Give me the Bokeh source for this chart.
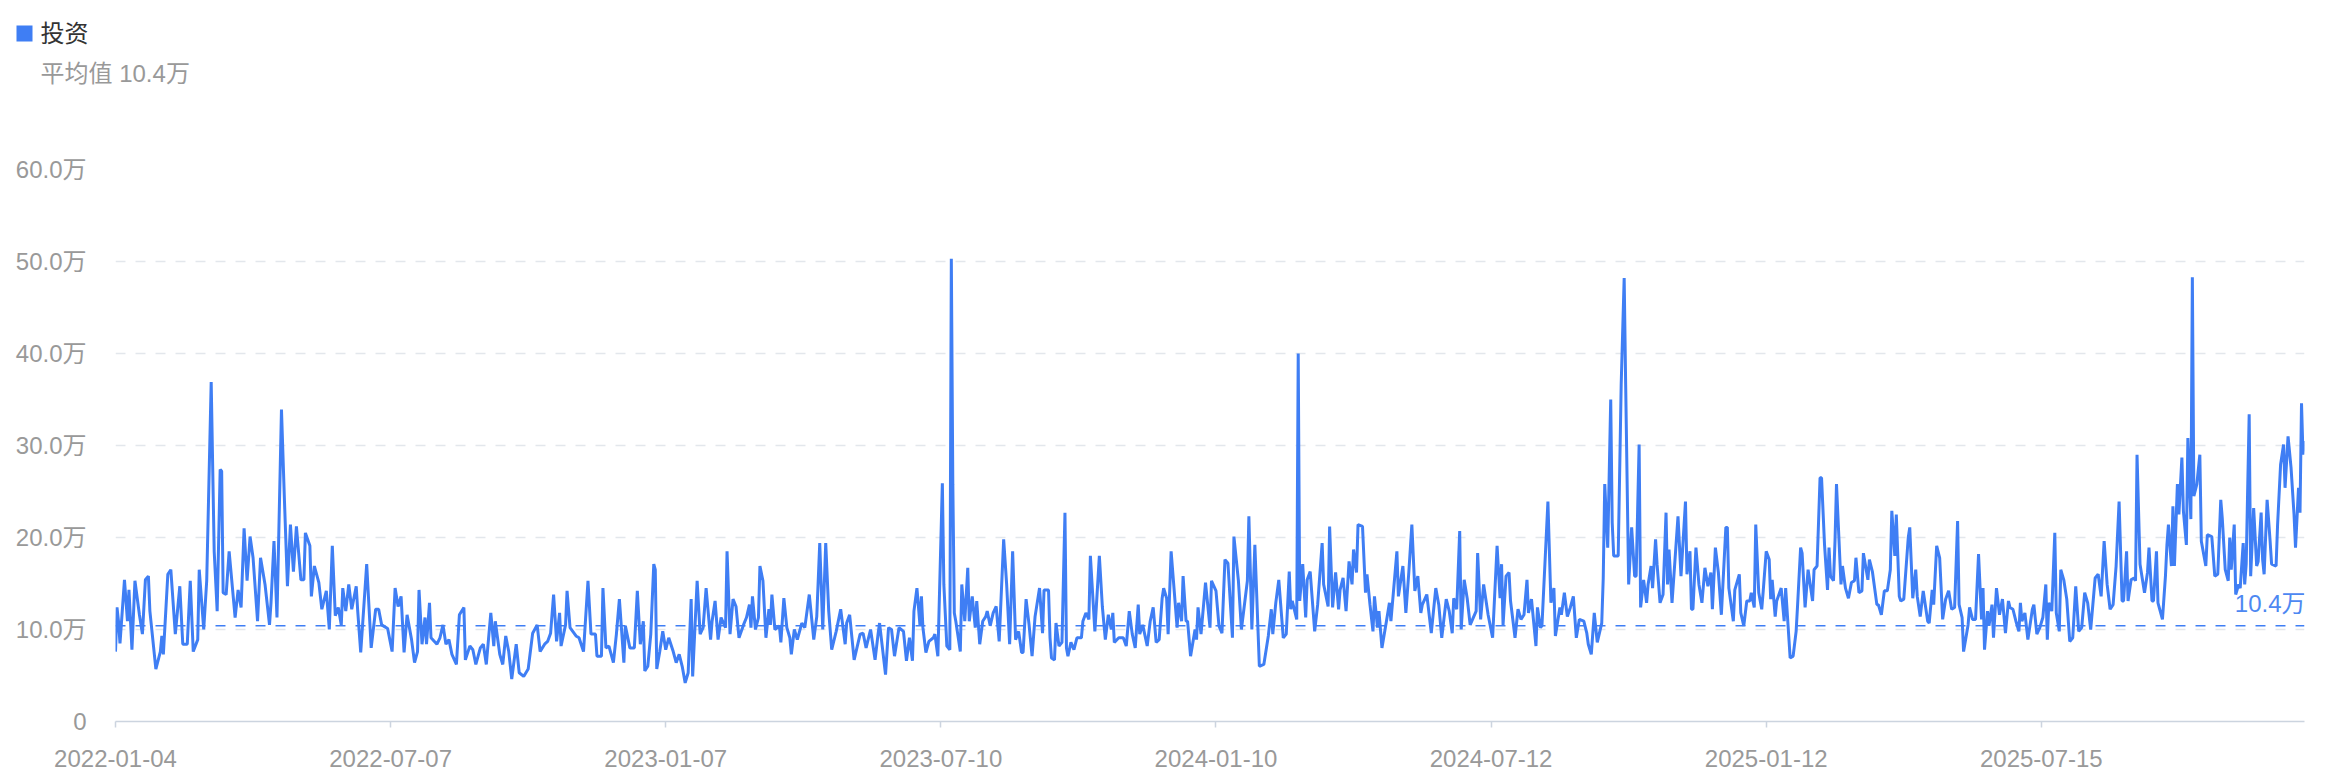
from bokeh.plotting import figure
from bokeh.models import Range1d, FixedTicker, Span, Label
from bokeh.core.properties import value
from bokeh.embed import file_html
from bokeh.resources import INLINE

# ---------------- data ----------------
start_date = "2022-01-04"
series_name = "投资"
mean_value = 10.4

# day offsets from start_date, and values (万)
days = [
    0, 1, 2, 3, 6, 8, 9, 11, 13, 16, 18, 20, 22, 23, 27, 30, 31, 32, 35, 37, 40, 43, 45, 48, 50, 52, 55, 56, 59, 61,
    64, 66, 68, 70, 71, 72, 74, 76, 77, 80, 82, 84, 86, 88, 90, 92, 95, 97, 100, 103, 104, 106, 108, 111, 113, 115,
    117, 119, 121, 124, 126, 127, 130, 131, 133, 136, 138, 141, 143, 145, 147, 149, 151, 152, 154, 156, 158, 161,
    162, 164, 168, 171, 174, 176, 178, 182, 185, 187, 189, 191, 193, 195, 198, 200, 202, 203, 205, 207,
    208, 210, 211, 215, 217, 219, 221, 223, 225, 228, 230, 233, 234, 237, 239, 241, 244, 246, 248, 251, 253, 254,
    257, 259, 261, 263, 265, 268, 270, 273, 276, 279, 282, 284, 287, 289, 291, 293, 295, 297, 298, 301, 302, 304,
    308, 310, 313, 316, 318, 321, 322, 325, 326, 328, 330, 333, 335, 337, 340, 341, 344, 347, 349, 351, 353, 354,
    356, 358, 360, 361, 362, 364, 366, 368, 370, 373, 375, 377, 379, 381, 383, 385, 386, 389, 391, 393, 395, 398,
    399, 401, 403, 405, 408, 409, 411, 413, 415, 417,
    420, 422, 424, 425, 426, 428, 430, 431, 433, 435, 437, 438, 439, 441, 444, 445, 447, 449, 451, 452, 454, 456,
    459, 461, 464, 467, 469, 471, 473, 475, 477, 479, 482, 485, 488, 489, 491, 494, 498, 500, 502, 505, 508, 510,
    511, 515, 517, 519, 521, 524, 527, 529, 531, 533, 534, 536, 538, 539, 540, 542, 544, 547, 548, 550, 553, 554,
    556, 558, 559, 560, 561, 562, 565, 566, 568, 570, 571, 573, 575, 576, 578, 580, 582, 583, 585, 587, 589, 591,
    594, 596, 598, 600, 602, 604, 606, 607, 609, 611, 613, 615, 618, 620, 621, 624, 625, 626,
    628, 629, 631, 633, 635, 636, 637, 639, 641, 643, 646, 647, 649, 651, 652, 655, 658, 660, 662, 664, 666, 667,
    668, 671, 674, 676, 678, 680, 682, 684, 685, 687, 690, 692, 694, 696, 698, 700, 701, 703, 704, 706, 710, 711,
    713, 714, 716, 717, 719, 722, 723, 724, 726, 729, 732, 733, 736, 738, 740, 742, 744, 747, 748, 751, 753, 757,
    758, 760, 762, 765, 768, 771, 773, 774, 776, 778, 781, 783, 785, 786, 787, 790, 791, 792, 794, 796, 797, 799,
    802, 804, 807, 808, 811, 812, 814, 816, 818, 819, 821, 823, 825, 827, 828, 830, 831, 834, 836,
    837, 839, 841, 842, 844, 845, 847, 850, 852, 853, 857, 858, 861, 863, 865, 867, 869, 871, 873, 874, 877, 880,
    883, 885, 887, 890, 892, 894, 895, 897, 899, 900, 902, 904, 906, 910, 911, 913, 915, 918, 921, 924, 926, 927,
    928, 930, 932, 933, 936, 938, 940, 942, 944, 945, 947, 950, 951, 953, 954, 958, 960, 962, 963, 966, 967, 969,
    971, 973, 975, 977, 979, 982, 984, 985, 987, 989, 991, 994, 995, 996, 998, 1000, 1001, 1002, 1005, 1007, 1009,
    1010, 1012, 1014, 1016, 1017, 1019, 1020, 1022, 1024, 1025, 1027, 1028, 1030, 1031, 1033, 1035, 1037, 1038,
    1039, 1041, 1043, 1045,
    1047, 1050, 1051, 1053, 1054, 1055, 1057, 1059, 1061, 1063, 1065, 1067, 1068, 1070, 1072, 1074, 1077, 1078,
    1079, 1082, 1083, 1086, 1087, 1089, 1091, 1093, 1094, 1096, 1097, 1099, 1101, 1102, 1104, 1106, 1107, 1108,
    1110, 1111, 1114, 1116, 1117, 1120, 1122, 1124, 1125, 1127, 1128, 1130, 1132, 1135, 1136, 1138, 1140, 1141,
    1143, 1145, 1146, 1147, 1149, 1150, 1151, 1154, 1155, 1157, 1159, 1161, 1163, 1164, 1166, 1168, 1169, 1172,
    1173, 1175, 1178, 1179, 1181, 1183, 1185, 1187, 1188, 1190, 1191, 1193, 1194, 1196, 1199, 1200, 1202, 1204,
    1205, 1207, 1209, 1212, 1213, 1215, 1216, 1218, 1220, 1222, 1224, 1226, 1228, 1230, 1232, 1233, 1235, 1236,
    1239, 1240, 1242, 1244, 1246, 1248, 1249, 1250, 1252, 1253, 1255,
    1256, 1258, 1260, 1262, 1264, 1266, 1267, 1269, 1271, 1273, 1274, 1275, 1277, 1279, 1282, 1283, 1285, 1287,
    1289, 1291, 1292, 1293, 1295, 1297, 1298, 1300, 1301, 1303, 1305, 1307, 1309, 1311, 1313, 1315, 1317, 1319,
    1321, 1324, 1326, 1328, 1330, 1332, 1334, 1336, 1338, 1340, 1342, 1343, 1345, 1346, 1348, 1350, 1351, 1352,
    1354, 1357, 1359, 1360, 1362, 1363, 1365, 1366, 1369, 1371, 1372, 1373, 1375, 1376, 1377, 1379, 1380, 1382,
    1383, 1385, 1386, 1388, 1389, 1390, 1392, 1394, 1395, 1398, 1399, 1402, 1404, 1406, 1408, 1409, 1411, 1413,
    1414, 1415, 1417, 1418, 1420, 1421, 1423, 1424, 1425, 1427, 1428, 1430, 1432, 1433, 1435, 1436, 1437, 1439,
    1441, 1442, 1445, 1446, 1448, 1450, 1451, 1453, 1455, 1457, 1458, 1460, 1461, 1462, 1463, 1464,
]

values = [
    7.6, 12.4, 10.9, 8.5, 15.4, 10.9, 14.3, 7.8, 15.3, 11.6, 9.5, 15.4, 15.8, 12.0, 5.7, 7.6, 9.3, 7.3, 16.0, 16.5,
    9.5, 14.7, 8.4, 8.4, 15.3, 7.6, 8.9, 16.5, 10.0, 15.3,
    36.9, 18.5, 12.0, 27.4, 27.2, 14.0, 13.8, 18.5, 16.7, 11.3, 14.3, 12.4, 21.0, 15.3, 20.1, 17.8, 10.9, 17.8, 14.9,
    10.5, 12.9, 19.6, 11.3, 33.9, 24.0, 14.7,
    21.4, 16.3, 21.2, 15.4, 15.4, 20.5, 19.1, 13.6, 16.9, 15.1, 12.2, 14.2, 10.0, 19.1, 11.5, 12.4, 10.5, 14.5, 12.0,
    14.9, 12.2, 14.7,
    12.0, 7.5, 17.1, 8.0, 12.2, 12.2, 10.5, 10.1, 7.6, 14.5, 12.5, 13.6, 7.5, 11.6, 8.9, 6.4, 7.6, 14.3, 8.4, 11.3,
    8.4, 12.9, 9.1, 8.4, 9.1, 10.5, 8.4, 8.9, 7.3, 6.2, 11.6, 12.4, 6.7, 8.2, 7.8, 6.2, 8.0, 8.4, 6.2, 11.8, 8.2, 10.9,
    7.3, 6.2, 9.3, 7.6, 4.6, 8.4, 5.3, 4.9, 5.7, 9.6, 10.5, 7.6, 8.4, 8.7, 9.6, 13.8, 8.7, 11.8, 8.2, 10.5, 14.2, 10.2,
    9.3, 9.1, 7.6, 15.3, 9.5, 9.5, 7.1, 7.1, 14.5, 8.0, 8.2, 6.4, 9.5, 13.3, 6.4, 10.4, 8.0, 8.0, 14.2, 8.4, 10.9, 5.5,
    6.0, 9.5, 17.1, 16.5, 5.7, 7.6, 9.8, 7.8, 9.1, 7.6, 6.4, 7.3, 6.0, 4.2, 5.3, 13.3, 4.9, 15.3, 9.5, 10.2, 14.5, 8.9,
    10.9, 13.1, 8.9, 11.3, 10.2, 18.5, 9.5, 13.3, 12.5, 9.1,
    10.5, 11.3, 12.7, 10.2, 13.6, 10.0, 11.3, 16.9, 15.3, 9.1, 12.2, 10.5, 13.8, 10.0, 10.4, 8.6, 13.4, 10.2, 9.1, 7.3,
    10.0, 8.9,
    10.7, 10.2, 13.8, 8.9, 11.4, 19.4, 10.0, 19.4, 12.0, 7.8, 9.8, 12.2, 8.4, 10.7, 11.6, 6.7, 9.5, 9.6, 8.0, 10.0,
    6.7, 9.5,
    10.7, 5.1, 10.2, 10.0, 7.1, 10.2, 9.8, 6.6, 9.1, 6.6, 12.0, 14.5, 10.5, 13.6, 10.2, 7.5, 8.7, 9.1, 9.5, 7.1, 25.9,
    14.9,
    8.2, 7.8, 50.3, 25.8, 11.8, 10.9, 7.6, 14.9, 10.9, 16.7, 10.9, 13.6, 10.2, 13.1, 8.4, 10.9, 11.4, 12.0, 10.4, 11.8,
    12.5, 8.7,
    19.8, 14.9, 8.4, 18.5, 8.9, 9.8, 7.5, 7.5, 13.3, 10.5, 7.1, 11.4, 14.5, 9.6, 14.3, 14.3, 9.1, 6.9,
    6.7, 10.7, 8.2, 8.6, 22.7, 8.0, 7.1, 8.6, 7.8, 9.1, 9.1, 10.9, 11.8, 11.1, 18.0, 9.8, 18.0, 12.5, 8.9, 11.6, 10.0,
    11.8,
    8.6, 9.1, 9.1, 8.2, 12.0, 9.5, 8.0, 12.7, 9.5, 10.5, 8.2, 10.9, 12.4, 8.6, 8.9, 13.4, 14.5, 13.4, 9.5, 18.5, 10.2,
    12.9,
    10.9, 15.8, 10.9, 10.9, 7.1, 10.0, 8.9, 12.4, 9.5, 15.1, 10.2, 15.3, 14.2, 10.4, 9.6, 17.6, 17.2, 9.1, 20.1, 15.3,
    10.0, 15.3,
    22.3, 10.0, 19.2, 6.0, 6.2, 9.3, 12.2, 9.5, 12.9, 15.4, 9.1, 9.5, 16.3, 12.2, 13.1, 11.1, 40.0, 13.1, 17.1, 11.3,
    15.4, 16.3,
    9.8, 12.7, 19.4, 14.9, 12.5, 21.2, 12.4, 16.2, 12.2, 14.3, 15.6, 12.0, 17.4, 14.9, 18.7, 16.2, 21.4, 21.2, 14.0,
    16.0, 12.7, 9.8, 13.6, 10.2, 12.0, 8.0, 10.9, 12.9, 10.9, 18.5, 13.6, 16.9, 11.8, 16.3, 21.4, 14.2, 15.8, 11.8,
    12.7, 13.8, 9.6,
    14.5, 12.7, 9.1, 13.3, 12.0, 9.6, 13.4, 12.2, 20.7, 10.0, 15.4, 13.4, 10.5, 12.0, 18.3, 11.1, 14.9, 11.6, 9.1,
    19.1, 13.4, 17.1,
    10.5, 15.8, 16.2, 13.1, 9.1, 12.2, 11.1, 11.6, 15.4, 11.8, 13.3, 8.2, 12.4, 10.2, 10.4, 23.9, 12.9, 14.5, 9.3,
    12.4, 11.6, 14.0,
    11.4, 12.4, 13.6, 9.1, 11.1, 10.9, 9.6, 8.4, 7.3, 11.8, 8.6, 10.7, 15.6, 25.8, 18.9, 35.0, 21.6, 18.0, 18.0, 36.6,
    48.2,
    36.6, 14.9, 21.1, 15.8, 15.8, 30.1, 12.4, 15.4, 12.9, 14.9, 16.9, 14.5, 19.8, 17.1, 12.9, 13.8, 22.7, 14.9,
    18.7, 12.9, 17.6, 22.3,
    15.8, 23.9, 16.0, 18.5, 12.2, 12.2, 18.9, 14.9, 12.9, 16.7, 14.7, 16.2, 12.2, 18.9, 16.2, 11.6, 21.1, 21.1,
    14.5, 10.9, 14.3, 16.0, 11.8, 10.4, 13.1, 13.1, 14.0, 12.4, 21.4, 14.0, 12.2, 14.2, 18.5, 17.6, 13.3, 15.4,
    11.4, 13.1, 14.5, 10.9, 14.5, 6.9, 7.1, 9.8, 12.7, 18.9, 18.3, 12.4, 16.5, 13.1, 16.5, 16.9, 26.5, 26.5,
    19.2, 14.3, 18.9, 15.8, 15.3, 19.6, 25.8, 14.9, 16.9, 14.5, 13.4, 15.1, 15.3, 17.8, 14.0, 14.2, 18.3, 15.4,
    17.6, 16.3, 12.7, 12.7, 11.6, 14.2, 14.2, 16.5, 22.9, 18.0, 22.5, 13.6, 13.1, 13.3, 20.0, 21.1, 13.4, 16.5,
    13.6, 11.4, 14.2, 10.9, 10.7, 14.3, 12.7, 19.1, 17.8, 11.1, 13.3, 14.2, 12.2, 12.4, 21.8, 12.7, 11.3, 7.6,
    10.5, 12.4, 11.1, 11.1, 18.2, 11.1, 14.5, 7.8, 12.0, 10.4, 12.7,
    9.1, 14.5, 11.6, 13.3, 9.6, 13.1, 12.4, 12.2, 10.9, 9.8, 12.9, 10.9, 11.8, 8.9, 12.2, 12.7, 9.5, 10.2,
    11.3, 14.9, 8.9, 12.9, 12.0, 20.5, 11.8, 9.8, 16.5, 15.4, 13.3, 8.7, 9.1, 14.7, 9.8, 10.2, 14.0, 12.9,
    10.0, 15.6, 16.0, 13.6, 19.6, 14.9, 12.2, 12.7, 16.9, 23.9, 13.1, 13.1, 18.5, 13.1, 15.4, 15.6, 15.3, 29.0,
    17.1, 14.0, 16.2, 18.9, 13.1, 13.1, 18.5, 12.9, 11.1, 15.8, 19.2, 21.4, 16.9, 23.4, 16.9, 25.8, 22.5, 28.7,
    22.9, 19.2, 30.8, 22.0, 48.3, 24.5, 25.8, 29.0, 19.6, 16.9, 20.3, 20.1, 15.8, 16.0, 24.1, 22.1, 16.5, 15.3,
    20.0, 16.5, 21.4, 13.8, 14.9, 14.5, 19.4, 14.9, 17.1, 33.4, 15.8, 23.2, 16.9, 17.4, 22.7, 17.6, 16.0, 24.1,
    19.6, 17.1, 16.9, 21.4, 27.9, 30.1, 25.4, 31.0, 27.6, 22.5, 18.9, 25.4, 22.7, 34.6, 29.0, 30.5,
]

x_tick_days = [0, 184, 368, 552, 736, 920, 1104, 1288]
x_tick_labels = ["2022-01-04", "2022-07-07", "2023-01-07", "2023-07-10",
                 "2024-01-10", "2024-07-12", "2025-01-12", "2025-07-15"]
y_ticks = [0, 10, 20, 30, 40, 50, 60]
y_tick_labels = ["0", "10.0万", "20.0万", "30.0万", "40.0万", "50.0万", "60.0万"]

# ---------------- layout / style ----------------
W = 2334
HEAD_H = 100          # header strip (legend + average caption), separate root
MAIN_H = 682
LEFT, RIGHT = 115, 30
TOP, BOTTOM = 69, 61
X_MAX = 1464
Y_MAX = 60

LINE_COLOR = "#3f7ef4"
FONT = "Liberation Sans, Noto Sans CJK SC"

# ---- header: legend square, series name, average ----
head = figure(width=W, height=HEAD_H, output_backend="svg", toolbar_location=None,
              x_range=Range1d(0, W), y_range=Range1d(HEAD_H, 0),
              x_axis_type=None, y_axis_type=None, min_border=0)
head.outline_line_color = None
head.background_fill_color = "white"
head.border_fill_color = "white"
head.grid.visible = False
head.quad(left=[16], right=[32], top=[25], bottom=[41], fill_color=LINE_COLOR, line_color=None)
head.text(x=[40], y=[33], text=[series_name], text_font=value(FONT), text_font_size="24px",
          text_color="#333333", text_baseline="middle", text_align="left")
head.text(x=[40], y=[73], text=[f"平均值 {mean_value}万"], text_font=value(FONT),
          text_font_size="24px", text_color="#999999", text_baseline="middle", text_align="left")

# ---- main chart ----
p = figure(width=W, height=MAIN_H, output_backend="svg", toolbar_location=None,
           x_range=Range1d(0, X_MAX), y_range=Range1d(0, Y_MAX),
           min_border_left=LEFT, min_border_right=RIGHT,
           min_border_top=TOP, min_border_bottom=BOTTOM)
p.outline_line_color = None
p.background_fill_color = "white"
p.border_fill_color = "white"

# y axis
p.yaxis.ticker = FixedTicker(ticks=y_ticks)
p.yaxis.major_label_overrides = {t: l for t, l in zip(y_ticks, y_tick_labels)}
p.yaxis.axis_line_color = None
p.yaxis.major_tick_line_color = None
p.yaxis.minor_tick_line_color = None
p.yaxis.major_label_text_font_size = "24px"
p.yaxis.major_label_text_color = "#999999"
p.yaxis.major_label_text_font = FONT
p.yaxis.major_label_standoff = 23

# x axis
p.xaxis.ticker = FixedTicker(ticks=x_tick_days)
p.xaxis.major_label_overrides = {t: l for t, l in zip(x_tick_days, x_tick_labels)}
p.xaxis.axis_line_color = "#ccd4df"
p.xaxis.axis_line_width = 1.5
p.xaxis.major_tick_line_color = "#ccd4df"
p.xaxis.major_tick_line_width = 1.5
p.xaxis.major_tick_out = 6
p.xaxis.major_tick_in = 0
p.xaxis.minor_tick_line_color = None
p.xaxis.major_label_text_font_size = "24px"
p.xaxis.major_label_text_color = "#999999"
p.xaxis.major_label_text_font = FONT
p.xaxis.major_label_standoff = 22

# grid
p.xgrid.grid_line_color = None
p.ygrid.ticker = FixedTicker(ticks=y_ticks[1:])
p.ygrid.grid_line_color = "#e3e7ec"
p.ygrid.grid_line_width = 1.5
p.ygrid.grid_line_dash = "10 10"

# series
p.line(days, values, line_color=LINE_COLOR, line_width=3.0)

# mean line
p.add_layout(Span(location=mean_value, dimension="width", line_color=LINE_COLOR,
                  line_width=1.5, line_dash="10 10"))
p.add_layout(Label(x=X_MAX, y=mean_value, text=f"{mean_value}万", text_align="right",
                   text_baseline="middle", y_offset=22, x_offset=1,
                   text_font_size="24px", text_font=FONT, text_color="#4d88f2"))

# two separate roots, stacked on the page (no frame alignment between them)
open("out.html", "w").write(file_html([head, p], INLINE))
